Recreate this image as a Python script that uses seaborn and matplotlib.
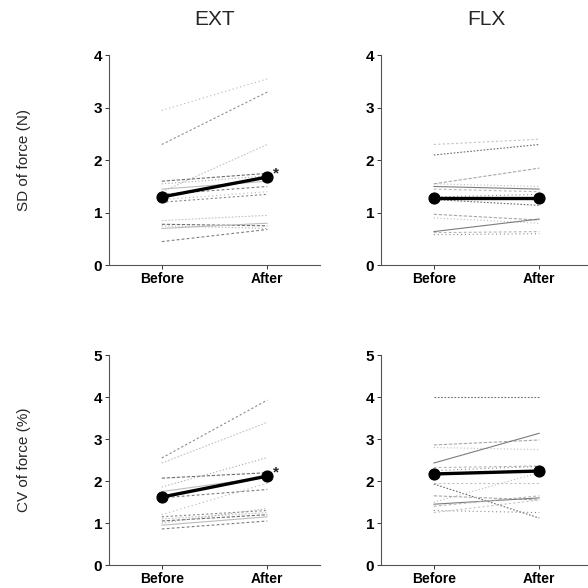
import numpy as np
import pandas as pd
import matplotlib
matplotlib.use("Agg")
import matplotlib.pyplot as plt
import seaborn as sns

# Individual subjects: value before and after, per muscle group and measure
sd_ext_before = [2.95, 2.30, 1.40, 1.60, 1.55, 1.45, 1.35, 1.25, 1.20, 0.85, 0.78, 0.75, 0.70, 0.45]
sd_ext_after  = [3.55, 3.30, 2.30, 1.75, 1.70, 1.60, 1.50, 1.40, 1.35, 0.95, 0.75, 0.70, 0.80, 0.68]

sd_flx_before = [2.30, 2.10, 1.55, 1.55, 1.50, 1.45, 1.30, 1.28, 1.25, 0.97, 0.90, 0.64, 0.62, 0.58]
sd_flx_after  = [2.40, 2.30, 1.85, 1.50, 1.45, 1.40, 1.35, 1.25, 1.14, 0.86, 0.80, 0.88, 0.64, 0.60]

cv_ext_before = [2.55, 2.43, 2.07, 1.86, 1.75, 1.60, 1.20, 1.15, 1.10, 1.05, 1.00, 0.95, 0.86]
cv_ext_after  = [3.93, 3.40, 2.20, 2.56, 2.10, 1.80, 1.95, 1.30, 1.25, 1.20, 1.35, 1.15, 1.05]

cv_flx_before = [4.00, 2.86, 2.80, 2.43, 2.32, 2.25, 1.95, 1.93, 1.65, 1.50, 1.45, 1.40, 1.30, 1.25]
cv_flx_after  = [4.00, 2.98, 2.75, 3.14, 2.36, 2.35, 1.95, 1.12, 1.55, 2.20, 1.60, 1.65, 1.25, 1.55]

# Group means
sd_ext_mean = [1.30, 1.68]
sd_flx_mean = [1.28, 1.28]
cv_ext_mean = [1.62, 2.12]
cv_flx_mean = [2.17, 2.24]

conditions = ["Before", "After"]
titles = ["EXT", "FLX"]
ylabels = ["SD of force (N)", "CV of force (%)"]
ymax = [4, 5]
significant = [[True, False], [True, False]]

panels = [
    [(sd_ext_before, sd_ext_after, sd_ext_mean), (sd_flx_before, sd_flx_after, sd_flx_mean)],
    [(cv_ext_before, cv_ext_after, cv_ext_mean), (cv_flx_before, cv_flx_after, cv_flx_mean)],
]

sns.set_style("ticks")
plt.rcParams["font.family"] = ["Liberation Sans", "DejaVu Sans"]

fig = plt.figure(figsize=(5.88, 5.88), dpi=100)
lefts = [0.1854, 0.648]
bottoms = [0.549, 0.039]
width, height = 0.359, 0.357

# mostly faint dotted/dashed traces, with a few darker ones
greys = ["#b5b5b5", "#8a8a8a", "#c4c4c4", "#6e6e6e", "#a8a8a8", "#bcbcbc", "#7c7c7c"]
dash_opts = [(1, 2.5), (2, 2), (1.5, 1.5), (3, 1.5), (1, 2), "", (2.5, 2)]

for r in range(2):
    for c in range(2):
        before, after, mean = panels[r][c]
        ax = fig.add_axes([lefts[c], bottoms[r], width, height])
        n = len(before)
        df = pd.DataFrame({
            "subject": np.repeat(np.arange(n), 2),
            "time": conditions * n,
            "value": np.ravel(np.column_stack([before, after])),
        })
        pal = {i: greys[(i + 2 * c + r) % len(greys)] for i in range(n)}
        dsh = {i: dash_opts[(i + c + r) % len(dash_opts)] for i in range(n)}
        sns.lineplot(data=df, x="time", y="value", hue="subject", style="subject",
                     palette=pal, dashes=dsh, estimator=None, linewidth=0.8,
                     legend=False, ax=ax)
        mdf = pd.DataFrame({"time": conditions, "value": mean})
        sns.lineplot(data=mdf, x="time", y="value", color="black", linewidth=2.4,
                     marker="o", markersize=8, markeredgecolor="black",
                     estimator=None, ax=ax)
        if significant[r][c]:
            ax.text(1.08, mean[1] + 0.07 * ymax[r] / 4, "*", fontsize=11,
                    fontweight="bold", ha="center", va="center")
        ax.set_xlim(-0.5, 1.5)
        ax.set_ylim(0, ymax[r])
        ax.set_yticks(range(ymax[r] + 1))
        ax.set_xticks([0, 1])
        ax.set_xticklabels(conditions, fontsize=10, fontweight="bold")
        ax.set_yticklabels([str(t) for t in range(ymax[r] + 1)], fontsize=11,
                           fontweight="bold")
        ax.set_xlabel("")
        ax.set_ylabel(ylabels[r] if c == 0 else "", fontsize=11, labelpad=45)
        ax.tick_params(length=3, width=0.7, pad=2, colors="#333333", labelcolor="black")
        for s in ["left", "bottom"]:
            ax.spines[s].set_linewidth(0.8)
            ax.spines[s].set_color("#555555")
        sns.despine(ax=ax)
        if r == 0:
            ax.set_title(titles[c], fontsize=15, pad=22)

fig.savefig("out.png", dpi=100)
